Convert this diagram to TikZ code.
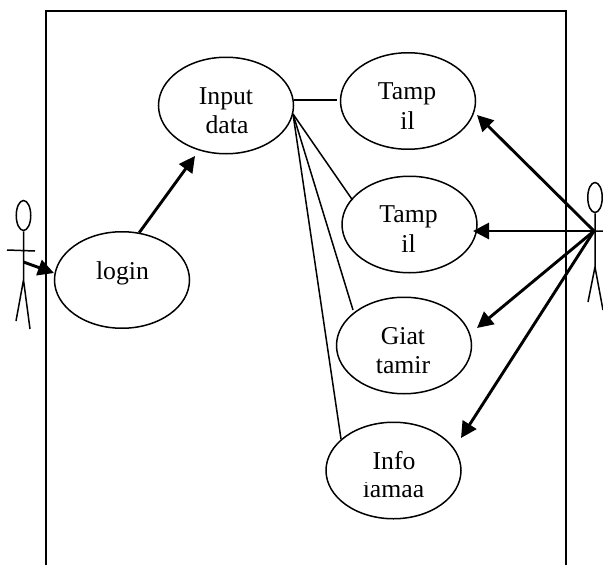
\documentclass[tikz,border=0pt]{standalone}
\usepackage{fontspec}
\setmainfont{Liberation Serif}
\usetikzlibrary{arrows.meta,shapes.geometric}
\tikzset{
  usecase/.style={draw=black,line width=1.5pt,ellipse,minimum width=135pt,minimum height=96.5pt,inner sep=0pt},
  caption/.style={anchor=base,inner sep=0pt,font=\fontsize{25.7}{30}\selectfont},
  plain/.style={draw=black,line width=1.5pt},
  thin link/.style={draw=black,line width=1.5pt},
  assoc/.style={draw=black,line width=2.9pt,-{Triangle[length=16pt,width=16pt]}},
  head/.style={draw=black,line width=1.5pt,ellipse,minimum width=14.5pt,minimum height=30pt,inner sep=0pt}
}
\begin{document}
\begin{tikzpicture}[x=1pt,y=-1pt]
\useasboundingbox (0,0) rectangle (603,565);
\fill[white] (0,0) rectangle (603,565);
% frame
\coordinate (fbl) at (46,565);
\coordinate (ftl) at (46,11);
\coordinate (ftr) at (566,11);
\coordinate (fbr) at (566,565);
\draw[plain] (fbl) -- (ftl) -- (ftr) -- (fbr);
% use cases
\node[usecase] (input) at (226,105.5) {};
\node[usecase] (tamp1) at (408,101) {};
\node[usecase] (tamp2) at (409.5,224.5) {};
\node[usecase] (giat) at (404,345.5) {};
\node[usecase] (info) at (393.5,470.5) {};
\node[usecase] (login) at (122,280) {};
% captions
\node[caption] (t1a) at (226,104) {Input};
\node[caption] (t1b) at (227,133) {data};
\node[caption] (t2a) at (407,99.3) {Tamp};
\node[caption] (t2b) at (407.5,129.3) {il};
\node[caption] (t3a) at (408.5,222) {Tamp};
\node[caption] (t3b) at (408.5,252) {il};
\node[caption] (t4a) at (403,344) {Giat};
\node[caption] (t4b) at (403,373.3) {tamir};
\node[caption] (t5a) at (394,469) {Info};
\begin{scope}
\clip (355,482) rectangle (435,505);
\node[caption] (t5b) at (393.5,497.3) {iamaa};
\end{scope}
\node[caption] (t6) at (122.5,279) {login};
% left actor
\node[head] (hl) at (23.5,215.5) {};
\coordinate (hipl) at (23.5,280);
\coordinate (al) at (7,250);
\coordinate (ar) at (35,251);
\coordinate (ll) at (16,321);
\coordinate (lr) at (30,329);
\coordinate (handl) at (23.5,262);
\draw[plain] (hl.south) -- (hipl) (al) -- (ar) (hipl) -- (ll) (hipl) -- (lr);
% right actor
\node[head] (hr) at (595,197.5) {};
\coordinate (hipr) at (595,267);
\coordinate (armrr) at (603,231);
\coordinate (lrl) at (588,302);
\coordinate (lrr) at (603,310);
\coordinate (handr) at (594,231);
\draw[plain] (hr.south) -- (hipr) (armrr) -- (handr) (hipr) -- (lrl) (hipr) -- (lrr);
% associations
\draw[assoc] (handl) -- ([shift={(-68,-7)}]login.center);
\draw[assoc] (login.70) -- ([shift={(-31,50.5)}]input.center);
\draw[assoc] (handr) -- ([shift={(69,14)}]tamp1.center);
\draw[assoc] (handr) -- ([shift={(63.5,6.5)}]tamp2.center);
\draw[assoc] (handr) -- ([shift={(73,-17.5)}]giat.center);
\draw[assoc] (handr) -- ([shift={(67.5,-32.5)}]info.center);
% links
\coordinate (fan) at (293,114);
\coordinate (fantop) at (294,100);
\draw[thin link] (fantop) -- ([shift={(-71,-1)}]tamp1.center);
\draw[thin link] (fan) -- ([shift={(-57,-24.5)}]tamp2.center);
\draw[thin link] (fan) -- ([shift={(-51,-35.5)}]giat.center);
\draw[thin link] (fan) -- ([shift={(-52.5,-31.5)}]info.center);
\end{tikzpicture}
\end{document}
